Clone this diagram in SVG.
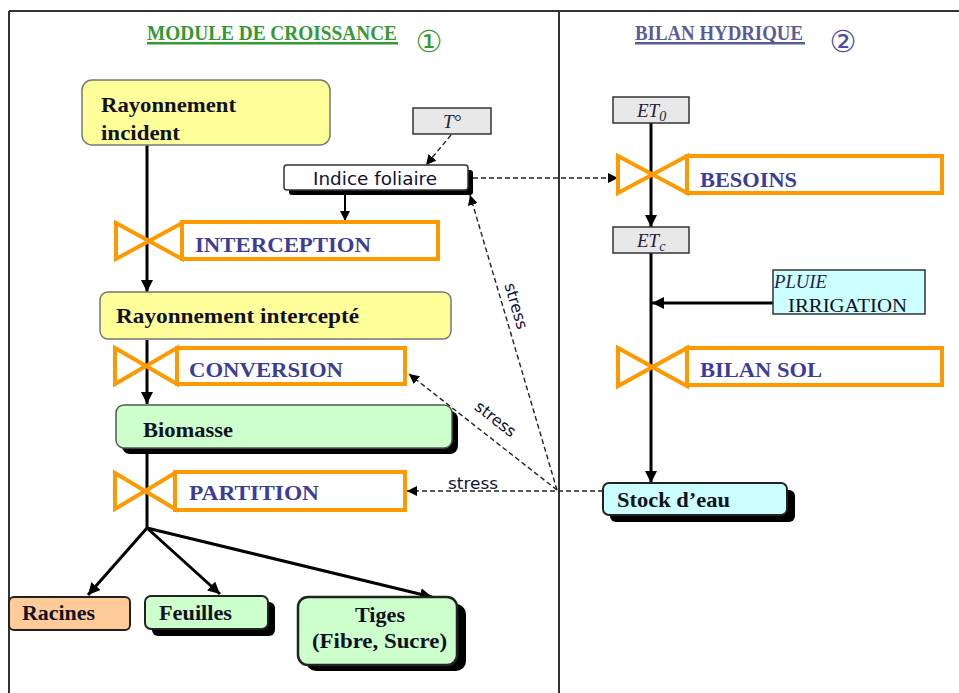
<svg xmlns="http://www.w3.org/2000/svg" width="959" height="693" viewBox="0 0 959 693">
<defs>
<marker id="ah" viewBox="0 0 10 10" refX="10" refY="5" markerWidth="4" markerHeight="4" orient="auto" markerUnits="strokeWidth"><path d="M0,0 L10,5 L0,10 Z" fill="#000"/></marker>
<marker id="ahd" viewBox="0 0 10 10" refX="10" refY="5" markerWidth="10" markerHeight="10" orient="auto" markerUnits="userSpaceOnUse"><path d="M0,0 L10,5 L0,10 Z" fill="#000"/></marker>
</defs>
<style>
.frame{stroke:#333;stroke-width:2;fill:none}
.valve{fill:#fff;stroke:#ff9900;stroke-width:4;stroke-linejoin:miter}
.vt{font-family:"Liberation Serif",serif;font-weight:bold;font-size:21px;fill:#3d3d99}
.nt{font-family:"Liberation Serif",serif;font-weight:bold;font-size:21px;fill:#111122}
.flow{stroke:#000;stroke-width:3;fill:none}
.dash{stroke:#222;stroke-width:1.4;stroke-dasharray:5,3;fill:none}
.st{font-family:"DejaVu Sans","Liberation Sans",sans-serif;font-size:16px;fill:#111133}
.shadow{fill:#000}
.grey{fill:#e8e8e8;stroke:#333;stroke-width:1.5}
.it{font-family:"Liberation Serif",serif;font-style:italic;font-size:19px;fill:#222244}
</style>
<g id="frame">
<line class="frame" x1="9" y1="11" x2="959" y2="11"/>
<line class="frame" x1="9" y1="11" x2="9" y2="693"/>
<line class="frame" x1="559" y1="11" x2="559" y2="693"/>
</g>
<g id="title-croissance">
<text x="147" y="40" font-family="Liberation Serif, serif" font-weight="bold" font-size="20" fill="#339933" textLength="250" lengthAdjust="spacingAndGlyphs">MODULE DE CROISSANCE</text>
<rect x="147" y="42" width="251" height="2.5" fill="#339933"/>
<text x="429" y="52" text-anchor="middle" font-family="DejaVu Sans, sans-serif" font-size="30" fill="#339933">①</text>
</g>
<g id="title-bilan">
<text x="635" y="40" font-family="Liberation Serif, serif" font-weight="bold" font-size="20" fill="#5a5a99" textLength="168" lengthAdjust="spacingAndGlyphs">BILAN HYDRIQUE</text>
<rect x="635" y="42" width="170" height="2.5" fill="#5a5a99"/>
<text x="843" y="52" text-anchor="middle" font-family="DejaVu Sans, sans-serif" font-size="30" fill="#4a4aa8">②</text>
</g>
<g id="connectors">
<line class="flow" x1="147" y1="145" x2="147" y2="292" marker-end="url(#ah)"/>
<line class="flow" x1="147" y1="340" x2="147" y2="404" marker-end="url(#ah)"/>
<polyline class="flow" points="147,450 147,528"/>
<line class="flow" x1="147" y1="528" x2="88" y2="595" marker-end="url(#ah)"/>
<line class="flow" x1="147" y1="528" x2="220" y2="594" marker-end="url(#ah)"/>
<line class="flow" x1="147" y1="528" x2="432" y2="597" marker-end="url(#ah)"/>
<line stroke="#000" stroke-width="2" x1="345" y1="190" x2="345" y2="221" marker-end="url(#ahd)"/>
<line class="dash" x1="451" y1="135" x2="426" y2="165" marker-end="url(#ahd)"/>
<line class="dash" x1="473" y1="178" x2="618" y2="178" marker-end="url(#ahd)"/>
<line class="dash" x1="557" y1="490" x2="470" y2="195" marker-end="url(#ahd)"/>
<line class="dash" x1="557" y1="490" x2="409" y2="374" marker-end="url(#ahd)"/>
<line class="dash" x1="603" y1="491" x2="407" y2="491" marker-end="url(#ahd)"/>
<text class="st" transform="translate(509,308) rotate(73.6)" text-anchor="middle" y="-2">stress</text>
<text class="st" transform="translate(491,425) rotate(38)" text-anchor="middle" y="-2">stress</text>
<text class="st" x="448" y="489" textLength="50" lengthAdjust="spacingAndGlyphs">stress</text>
<line class="flow" x1="651" y1="122" x2="651" y2="227" marker-end="url(#ah)"/>
<line class="flow" x1="651" y1="253" x2="651" y2="483" marker-end="url(#ah)"/>
<line class="flow" x1="773" y1="303" x2="652" y2="303" marker-end="url(#ah)"/>
</g>
<g id="rayonnement-incident">
<rect x="82" y="80" width="248" height="65" rx="10" fill="#ffff99" stroke="#777" stroke-width="1.5"/>
<text class="nt" x="101" y="112" textLength="135" lengthAdjust="spacingAndGlyphs">Rayonnement</text>
<text class="nt" x="101" y="140" textLength="79" lengthAdjust="spacingAndGlyphs">incident</text>
</g>
<g id="t-degre">
<rect class="grey" x="413" y="108" width="78" height="26"/>
<text class="it" x="443" y="128">T°</text>
</g>
<g id="indice-foliaire">
<rect class="shadow" x="289" y="170" width="184" height="25" rx="3"/>
<rect x="284" y="165" width="184" height="25" rx="3" fill="#fff" stroke="#333" stroke-width="1.5"/>
<text x="313" y="185" font-family="DejaVu Sans, Liberation Sans, sans-serif" font-size="17" fill="#111133" textLength="124" lengthAdjust="spacingAndGlyphs">Indice foliaire</text>
</g>
<g id="interception">
<path class="valve" d="M116,223 L182,259 L182,223 L116,259 Z"/>
<rect class="valve" x="182" y="222" width="256" height="37"/>
<text class="vt" x="195" y="252" textLength="176" lengthAdjust="spacingAndGlyphs">INTERCEPTION</text>
</g>
<g id="rayonnement-intercepte">
<rect x="100" y="292" width="351" height="47" rx="8" fill="#ffff99" stroke="#777" stroke-width="1.5"/>
<text class="nt" x="116" y="323" textLength="243" lengthAdjust="spacingAndGlyphs">Rayonnement  intercepté</text>
</g>
<g id="conversion">
<path class="valve" d="M115,348 L177,384 L177,348 L115,384 Z"/>
<rect class="valve" x="177" y="348" width="228" height="36"/>
<text class="vt" x="189" y="377" textLength="154" lengthAdjust="spacingAndGlyphs">CONVERSION</text>
</g>
<g id="biomasse">
<rect class="shadow" x="122" y="411" width="336" height="43" rx="8"/>
<rect x="116" y="405" width="336" height="43" rx="8" fill="#ccffcc" stroke="#555" stroke-width="1.5"/>
<text class="nt" x="143" y="437" textLength="90" lengthAdjust="spacingAndGlyphs">Biomasse</text>
</g>
<g id="partition">
<path class="valve" d="M115,473 L175,509 L175,473 L115,509 Z"/>
<rect class="valve" x="175" y="472" width="230" height="38"/>
<text class="vt" x="189" y="500" textLength="130" lengthAdjust="spacingAndGlyphs">PARTITION</text>
</g>
<g id="racines">
<rect x="9" y="597" width="121" height="33" rx="5" fill="#ffcc99" stroke="#222" stroke-width="2"/>
<text class="nt" x="22" y="620" textLength="73" lengthAdjust="spacingAndGlyphs">Racines</text>
</g>
<g id="feuilles">
<rect class="shadow" x="152" y="602" width="123" height="34" rx="6"/>
<rect x="145" y="596" width="123" height="33" rx="6" fill="#ccffcc" stroke="#222" stroke-width="2"/>
<text class="nt" x="159" y="620" textLength="73" lengthAdjust="spacingAndGlyphs">Feuilles</text>
</g>
<g id="tiges">
<rect class="shadow" x="306" y="604" width="160" height="67" rx="10"/>
<rect x="298" y="597" width="159" height="68" rx="10" fill="#ccffcc" stroke="#222" stroke-width="2.5"/>
<text class="nt" x="355" y="622" textLength="50" lengthAdjust="spacingAndGlyphs">Tiges</text>
<text class="nt" x="312" y="648" textLength="135" lengthAdjust="spacingAndGlyphs">(Fibre, Sucre)</text>
</g>
<g id="et0">
<rect class="grey" x="613" y="97" width="76" height="26"/>
<text class="it" x="637" y="117">ET<tspan font-size="14" dy="4">0</tspan></text>
</g>
<g id="besoins">
<path class="valve" d="M618,156 L687,193 L687,156 L618,193 Z"/>
<rect class="valve" x="687" y="156" width="255" height="37"/>
<text class="vt" x="700" y="187" textLength="97" lengthAdjust="spacingAndGlyphs">BESOINS</text>
</g>
<g id="etc">
<rect class="grey" x="613" y="227" width="76" height="26"/>
<text class="it" x="637" y="247">ET<tspan font-size="14" dy="4">c</tspan></text>
</g>
<g id="pluie-irrigation">
<rect x="773" y="270" width="152" height="44" fill="#ccffff" stroke="#333" stroke-width="1.5"/>
<text class="it" x="774" y="288" font-size="17" textLength="53" lengthAdjust="spacingAndGlyphs">PLUIE</text>
<text x="788" y="312" font-family="Liberation Serif, serif" font-size="19" fill="#111122" textLength="119" lengthAdjust="spacingAndGlyphs">IRRIGATION</text>
</g>
<g id="bilan-sol">
<path class="valve" d="M618,348 L687,386 L687,348 L618,386 Z"/>
<rect class="valve" x="687" y="348" width="255" height="37"/>
<text class="vt" x="700" y="377" textLength="122" lengthAdjust="spacingAndGlyphs">BILAN SOL</text>
</g>
<g id="stock-eau">
<rect class="shadow" x="610" y="490" width="185" height="32" rx="6"/>
<rect x="603" y="483" width="184" height="32" rx="6" fill="#ccffff" stroke="#222" stroke-width="2"/>
<text class="nt" x="617" y="507" textLength="113" lengthAdjust="spacingAndGlyphs">Stock d’eau</text>
</g>
</svg>
